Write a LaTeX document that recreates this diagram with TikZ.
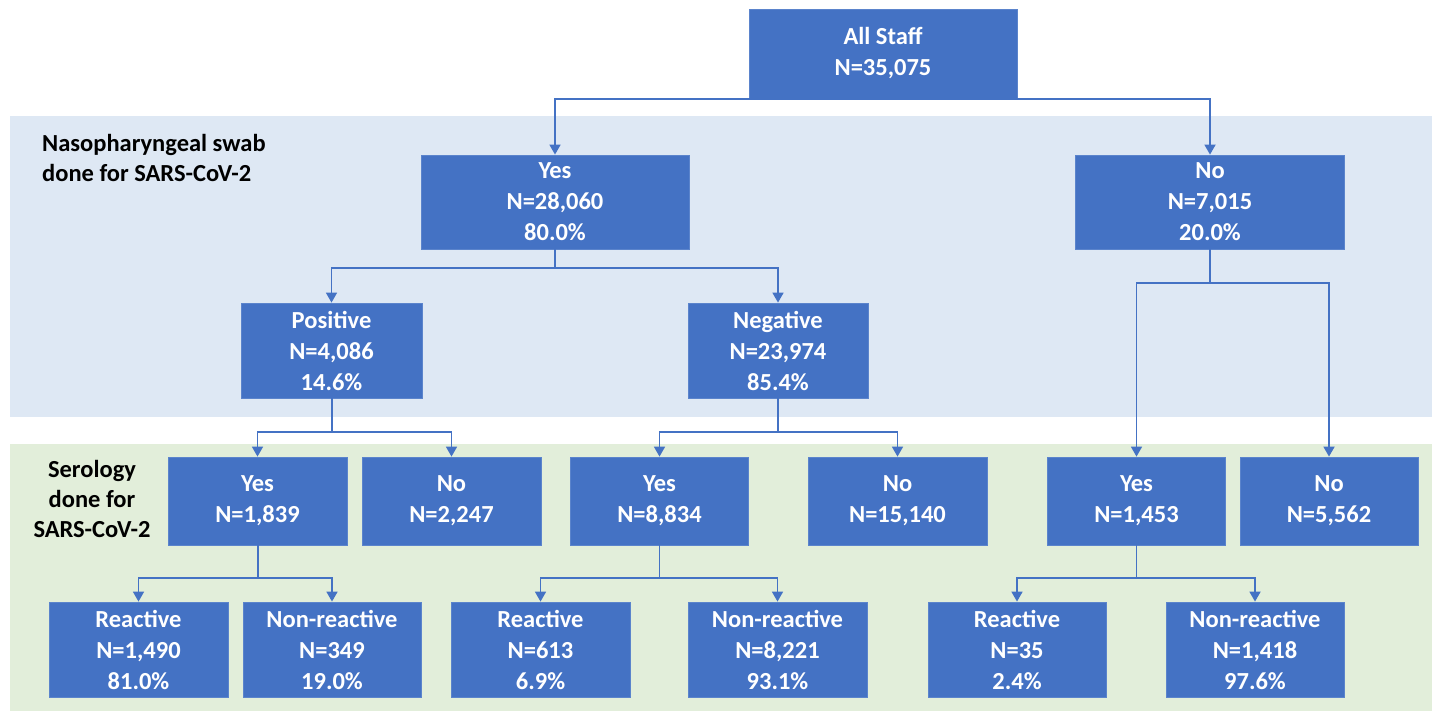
\documentclass[tikz,border=0pt]{standalone}
\usepackage{fontspec}
\setmainfont{Carlito}
\usetikzlibrary{arrows.meta}
\definecolor{boxblue}{HTML}{4472C4}
\definecolor{boxedge}{HTML}{5B84CC}
\definecolor{bandblue}{HTML}{DEE8F4}
\definecolor{bandgreen}{HTML}{E2EEDA}
\tikzset{
  box/.style={fill=boxblue, draw=boxedge, line width=0.8pt, text=white,
    font=\bfseries\fontsize{24.5}{31}\selectfont, align=center, inner sep=0pt},
  conn/.style={draw=boxblue, line width=1.7pt, -{Triangle[width=11pt,length=10pt]}},
  plain/.style={draw=boxblue, line width=1.7pt},
  lbl/.style={font=\bfseries\fontsize{24.5}{30}\selectfont, text=black, inner sep=0pt}
}
\begin{document}
\begin{tikzpicture}[x=1pt,y=-1pt]
\useasboundingbox (0,0) rectangle (1432,711);
% background bands
\fill[bandblue] (10,116) rectangle (1432,417);
\fill[bandgreen] (10,444) rectangle (1432,711);
% labels
\node[lbl, align=left, anchor=north west] (lab1) at (42,134) {Nasopharyngeal swab\\done for SARS-CoV-2};
\node[lbl, align=center] (lab2) at (92,499) {Serology\\done for\\SARS-CoV-2};
% level 0
\node[box, minimum width=268pt, minimum height=89pt] (all) at (883,53.5) {All Staff\\N=35,075};
% level 1
\node[box, minimum width=268pt, minimum height=94pt] (yes1) at (555,202) {Yes\\N=28,060\\80.0\%};
\node[box, minimum width=269pt, minimum height=94pt] (no1) at (1210,202) {No\\N=7,015\\20.0\%};
% level 2
\node[box, minimum width=181pt, minimum height=95pt] (pos) at (331.5,350.5) {Positive\\N=4,086\\14.6\%};
\node[box, minimum width=180pt, minimum height=95pt] (neg) at (778,350.5) {Negative\\N=23,974\\85.4\%};
% level 3 (serology)
\node[box, minimum width=179pt, minimum height=88pt] (sy1) at (257.5,501) {Yes\\N=1,839};
\node[box, minimum width=179pt, minimum height=88pt] (sn1) at (451.5,501) {No\\N=2,247};
\node[box, minimum width=178pt, minimum height=88pt] (sy2) at (659.5,501) {Yes\\N=8,834};
\node[box, minimum width=179pt, minimum height=88pt] (sn2) at (897.5,501) {No\\N=15,140};
\node[box, minimum width=178pt, minimum height=88pt] (sy3) at (1136.5,501) {Yes\\N=1,453};
\node[box, minimum width=178pt, minimum height=88pt] (sn3) at (1329,501) {No\\N=5,562};
% level 4
\node[box, minimum width=179pt, minimum height=95pt] (r1) at (138.5,649.5) {Reactive\\N=1,490\\81.0\%};
\node[box, minimum width=178pt, minimum height=95pt] (nr1) at (332,649.5) {Non-reactive\\N=349\\19.0\%};
\node[box, minimum width=179pt, minimum height=95pt] (r2) at (540.5,649.5) {Reactive\\N=613\\6.9\%};
\node[box, minimum width=179pt, minimum height=95pt] (nr2) at (777.5,649.5) {Non-reactive\\N=8,221\\93.1\%};
\node[box, minimum width=178pt, minimum height=95pt] (r3) at (1017,649.5) {Reactive\\N=35\\2.4\%};
\node[box, minimum width=178pt, minimum height=95pt] (nr3) at (1255,649.5) {Non-reactive\\N=1,418\\97.6\%};
% junctions
\coordinate (j0) at (883,99);
\coordinate (j1) at (555,268);
\coordinate (j2) at (332,432);
\coordinate (j3) at (778,432);
\coordinate (j4) at (1210,283);
\coordinate (j5) at (258,578);
\coordinate (j6) at (659.5,578);
\coordinate (j7) at (1136.5,578);
% connectors
\draw[conn] (j0) -| (yes1.north);
\draw[conn] (j0) -| (no1.north);
\draw[plain] (yes1.south) -- (j1);
\draw[conn] (j1) -| (pos.north);
\draw[conn] (j1) -| (neg.north);
\draw[plain] (pos.south -| j2) -- (j2);
\draw[conn] (j2) -| (sy1.north);
\draw[conn] (j2) -| (sn1.north);
\draw[plain] (neg.south) -- (j3);
\draw[conn] (j3) -| (sy2.north);
\draw[conn] (j3) -| (sn2.north);
\draw[plain] (no1.south) -- (j4);
\draw[conn] (j4) -| (sy3.north);
\draw[conn] (j4) -| (sn3.north);
\draw[plain] (sy1.south -| j5) -- (j5);
\draw[conn] (j5) -| (r1.north);
\draw[conn] (j5) -| (nr1.north);
\draw[plain] (sy2.south) -- (j6);
\draw[conn] (j6) -| (r2.north);
\draw[conn] (j6) -| (nr2.north);
\draw[plain] (sy3.south) -- (j7);
\draw[conn] (j7) -| (r3.north);
\draw[conn] (j7) -| (nr3.north);
\end{tikzpicture}
\end{document}
